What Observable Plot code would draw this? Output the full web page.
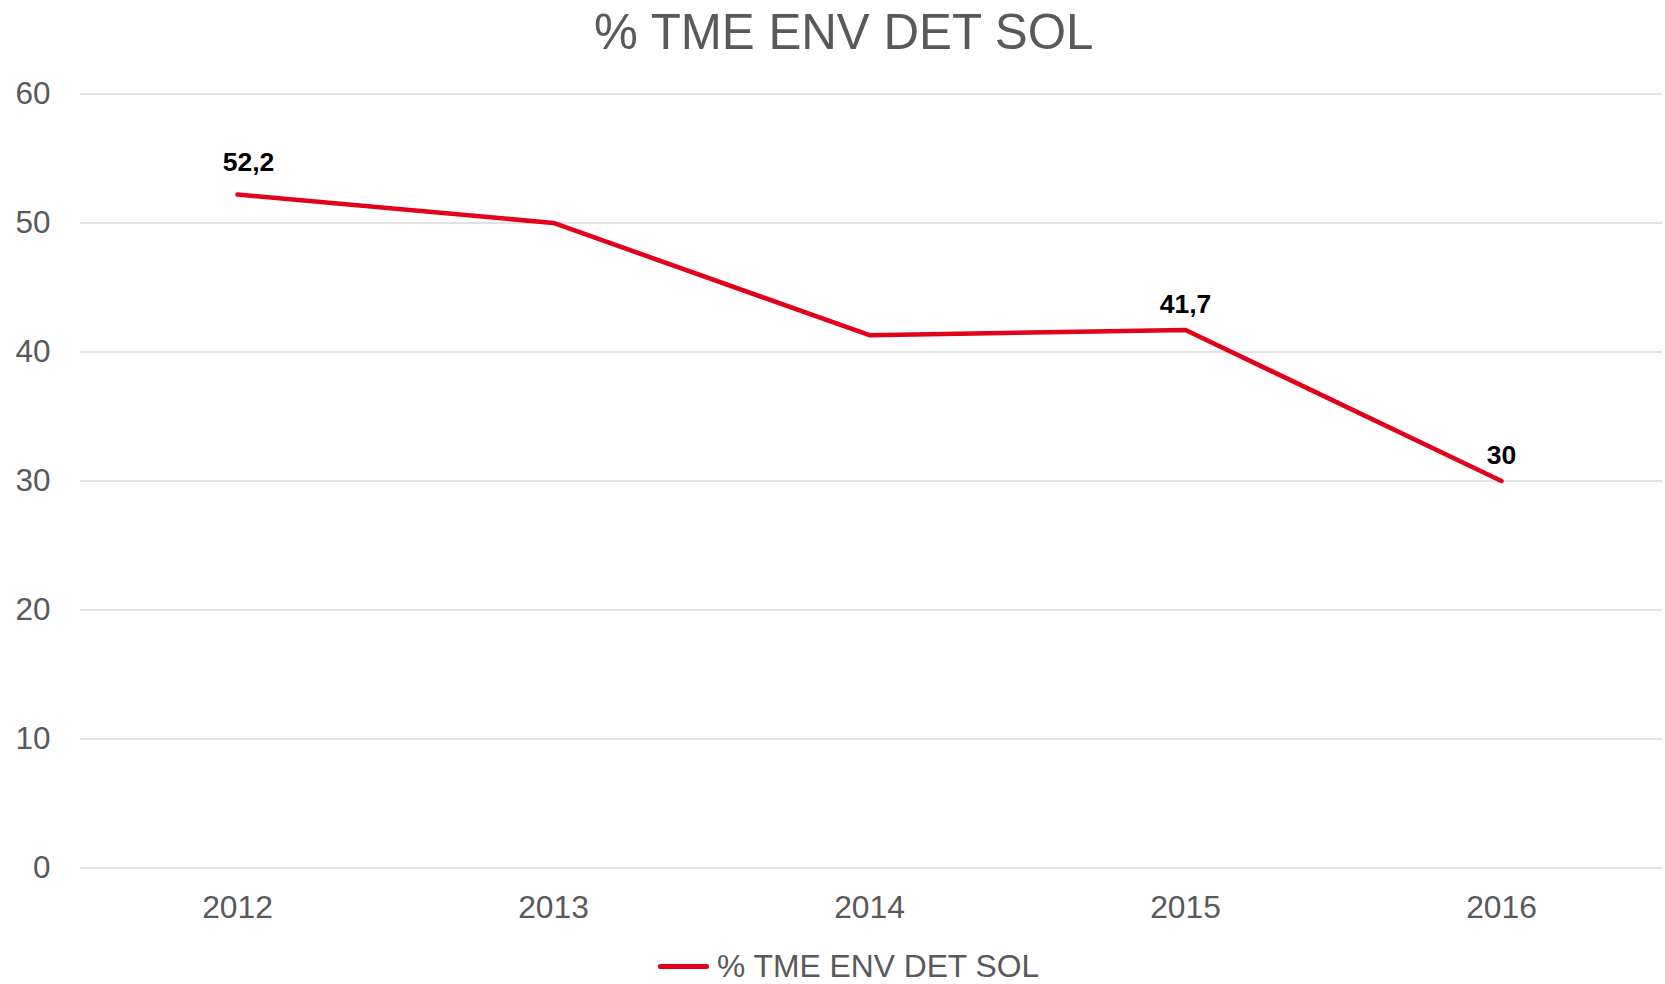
<!DOCTYPE html>
<html>
<head>
<meta charset="utf-8">
<script src="https://cdn.jsdelivr.net/npm/d3@7"></script>
<script src="https://cdn.jsdelivr.net/npm/@observablehq/plot@0.6"></script>
<style>
  html, body { margin: 0; padding: 0; background: #fff; }
  body { width: 1665px; height: 984px; overflow: hidden; font-family: "Liberation Sans", Arial, sans-serif; color: #595959; }
  #title { position: relative; height: 60px; }
  #title span { position: absolute; left: 594px; top: 6.5px; font-size: 49.3px; line-height: 49px; white-space: nowrap; }
  #chart svg { display: block; }
  #legend { position: relative; height: 44px; }
  #legend .sw { position: absolute; left: 658px; top: 24px; width: 51px; height: 4.5px; background: #e2001a; border-radius: 2px; }
  #legend .lt { position: absolute; left: 717px; top: 10.5px; font-size: 31.8px; line-height: 31px; white-space: nowrap; }
</style>
</head>
<body>
<div id="title"><span></span></div>
<div id="chart"></div>
<div id="legend"><div class="sw"></div><span class="lt"></span></div>
<script>
const seriesName = "% TME ENV DET SOL";
const years = ["2012", "2013", "2014", "2015", "2016"];
const values = [52.2, 50, 41.3, 41.7, 30];
const labels = ["52,2", null, null, "41,7", "30"];
const yTicks = [0, 10, 20, 30, 40, 50, 60];

const data = years.map((y, i) => ({year: y, value: values[i], label: labels[i], i}));

document.querySelector("#title span").textContent = seriesName;
document.querySelector("#legend .lt").textContent = seriesName;

const labelStyle = {x: "year", y: "value", text: "label", lineAnchor: "bottom", fontWeight: "bold", fontSize: 26.5, fill: "black"};

const chart = Plot.plot({
  width: 1665,
  height: 880,
  marginTop: 33.4,
  marginBottom: 72.4,
  marginLeft: 79.6,
  marginRight: 3,
  style: {fontFamily: "'Liberation Sans', Arial, sans-serif", color: "#595959", background: "white", overflow: "visible"},
  x: {type: "point", domain: years, range: [236.8, 1501.5], padding: 0, label: null},
  y: {domain: [0, 60], label: null},
  marks: [
    Plot.ruleY(yTicks, {stroke: "#d9d9d9", strokeWidth: 1.5}),
    Plot.axisY(yTicks, {tickSize: 0, tickPadding: 29.6, label: null, fontSize: 31.5, tickFormat: d => String(d)}),
    Plot.axisX({tickSize: 0, tickPadding: 27, label: null, fontSize: 31.8}),
    Plot.line(data, {x: "year", y: "value", stroke: "#e2001a", strokeWidth: 4.6, strokeLinecap: "round", strokeLinejoin: "round"}),
    Plot.text(data.filter(d => d.label && d.i > 0), {...labelStyle, dy: -17}),
    Plot.text(data.filter(d => d.label && d.i === 0), {...labelStyle, dx: 11, dy: -24})
  ]
});
document.getElementById("chart").appendChild(chart);
</script>
</body>
</html>
